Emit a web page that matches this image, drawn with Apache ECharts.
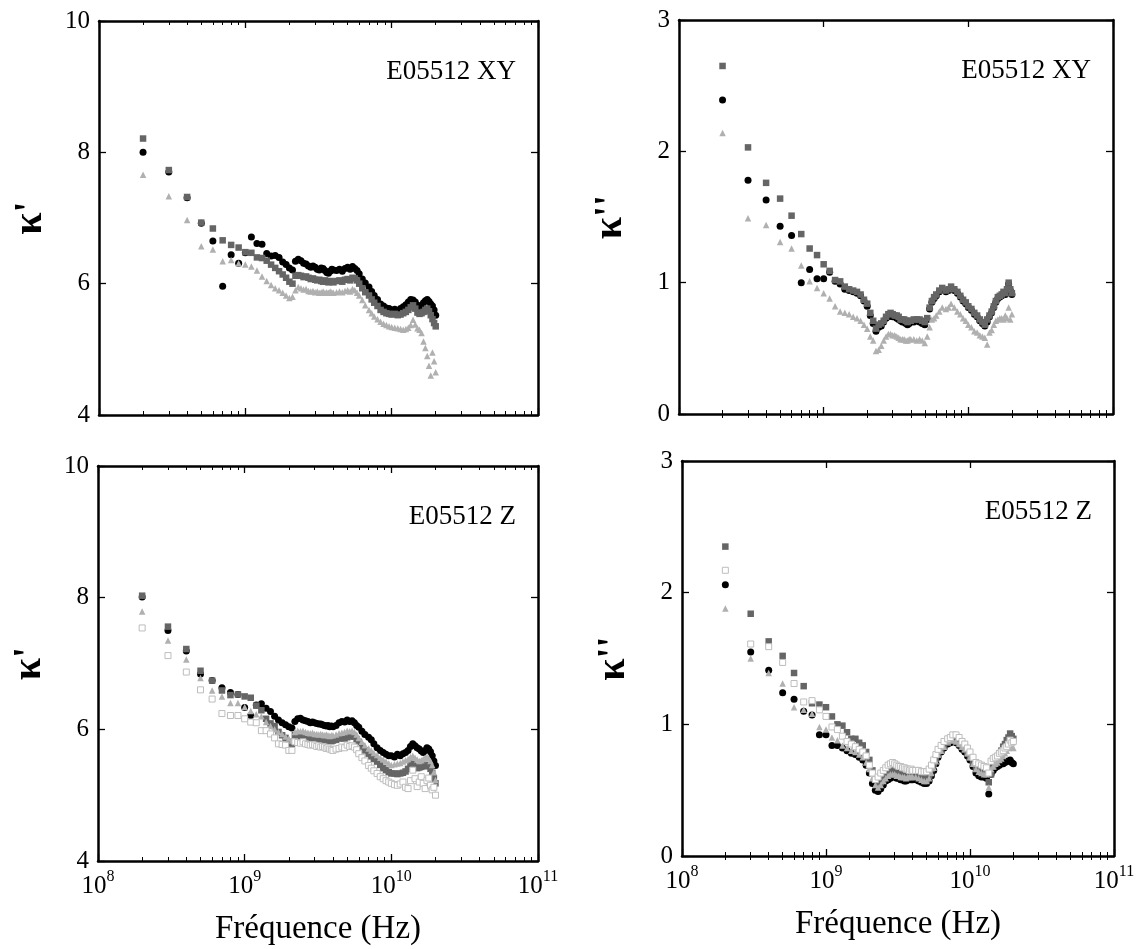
<!DOCTYPE html>
<html><head><meta charset="utf-8">
<script src="https://cdn.jsdelivr.net/npm/echarts@6/dist/echarts.min.js"></script>
<style>html,body{margin:0;padding:0;background:#fff}#c{width:1144px;height:949px}</style>
</head><body><div id="c"></div>
<script>
// Frequencies (GHz)
const freqGHz = [
 0.2,0.3,0.4,0.5,0.6,0.7,0.8,0.9,1.0,1.1,
 1.2,1.3,1.4,1.5,1.6,1.7,1.8,1.9,2.0,2.1,
 2.2,2.3,2.4,2.5,2.6,2.7,2.8,2.9,3.0,3.1,
 3.2,3.3,3.4,3.5,3.6,3.7,3.8,3.9,4.0,4.2,
 4.4,4.6,4.8,5.0,5.2,5.4,5.6,5.8,6.0,6.3,
 6.6,7.0,7.3,7.6,8.0,8.4,8.8,9.2,9.6,10,
 10.5,11,11.5,12,12.5,13,13.5,14,14.5,15,
 15.5,16,16.5,17,17.5,18,18.5,19,19.5,20];

// E05512 XY, kappa'
const xyKp_circle = [
 8.00,7.70,7.31,6.92,6.65,5.96,6.44,6.31,6.47,6.71,
 6.61,6.60,6.46,6.42,6.43,6.40,6.33,6.29,6.24,6.21,
 6.34,6.37,6.35,6.31,6.30,6.27,6.25,6.27,6.25,6.22,
 6.21,6.24,6.23,6.20,6.17,6.16,6.19,6.22,6.21,6.20,
 6.22,6.19,6.23,6.25,6.22,6.26,6.23,6.20,6.15,6.07,
 6.01,5.95,5.88,5.82,5.76,5.69,5.66,5.63,5.62,5.60,
 5.61,5.59,5.62,5.65,5.68,5.72,5.76,5.75,5.72,5.67,
 5.65,5.67,5.71,5.74,5.76,5.73,5.69,5.66,5.60,5.52];
const xyKp_square = [
 8.21,7.73,7.32,6.93,6.84,6.66,6.59,6.55,6.48,6.47,
 6.40,6.39,6.35,6.29,6.24,6.19,6.14,6.09,6.03,6.00,
 6.12,6.13,6.12,6.10,6.11,6.09,6.07,6.08,6.06,6.05,
 6.06,6.04,6.03,6.05,6.03,6.02,6.04,6.03,6.02,6.04,
 6.05,6.03,6.06,6.07,6.05,6.09,6.08,6.05,6.00,5.93,
 5.87,5.82,5.76,5.71,5.66,5.60,5.57,5.55,5.54,5.53,
 5.54,5.52,5.53,5.55,5.57,5.60,5.64,5.67,5.62,5.56,
 5.54,5.55,5.57,5.60,5.62,5.58,5.52,5.46,5.40,5.35];
const xyKp_triangle = [
 7.66,7.33,6.97,6.57,6.52,6.34,6.36,6.31,6.29,6.26,
 6.20,6.11,6.04,5.98,5.93,5.90,5.86,5.82,5.78,5.80,
 5.90,5.95,5.93,5.91,5.92,5.89,5.88,5.89,5.87,5.88,
 5.86,5.87,5.88,5.86,5.87,5.86,5.88,5.87,5.86,5.87,
 5.88,5.87,5.89,5.90,5.88,5.92,5.90,5.86,5.82,5.75,
 5.67,5.60,5.55,5.50,5.46,5.42,5.39,5.37,5.35,5.34,
 5.33,5.32,5.31,5.30,5.31,5.33,5.37,5.45,5.38,5.32,
 5.30,5.25,5.12,5.02,4.90,4.75,4.60,4.95,4.82,4.65];

// E05512 XY, kappa''
const xyKpp_circle = [
 2.39,1.78,1.63,1.43,1.36,1.00,1.10,1.03,1.03,1.08,
 1.01,0.99,0.95,0.94,0.93,0.92,0.90,0.86,0.82,0.75,
 0.69,0.63,0.66,0.67,0.70,0.73,0.74,0.75,0.74,0.74,
 0.73,0.72,0.71,0.70,0.70,0.69,0.68,0.69,0.70,0.70,
 0.71,0.70,0.69,0.68,0.72,0.80,0.85,0.88,0.90,0.93,
 0.95,0.93,0.94,0.96,0.94,0.92,0.89,0.86,0.84,0.81,
 0.79,0.76,0.74,0.71,0.69,0.67,0.70,0.74,0.77,0.81,
 0.85,0.88,0.89,0.90,0.92,0.91,0.94,0.99,0.94,0.91];
const xyKpp_square = [
 2.65,2.03,1.76,1.64,1.51,1.37,1.26,1.21,1.14,1.09,
 1.02,1.01,0.97,0.95,0.94,0.93,0.91,0.87,0.84,0.77,
 0.71,0.65,0.68,0.69,0.71,0.74,0.76,0.77,0.76,0.75,
 0.75,0.74,0.72,0.72,0.72,0.71,0.70,0.71,0.71,0.72,
 0.72,0.72,0.71,0.70,0.73,0.81,0.86,0.89,0.91,0.94,
 0.96,0.94,0.95,0.97,0.95,0.93,0.90,0.87,0.85,0.82,
 0.80,0.77,0.75,0.72,0.70,0.68,0.72,0.75,0.78,0.82,
 0.86,0.89,0.90,0.91,0.93,0.92,0.95,1.00,0.95,0.92];
const xyKpp_triangle = [
 2.14,1.49,1.44,1.31,1.26,1.13,1.01,0.96,0.92,0.88,
 0.82,0.78,0.77,0.76,0.74,0.73,0.71,0.68,0.65,0.59,
 0.56,0.48,0.49,0.52,0.56,0.59,0.61,0.61,0.60,0.60,
 0.59,0.58,0.57,0.57,0.57,0.56,0.56,0.57,0.57,0.57,
 0.56,0.57,0.56,0.54,0.59,0.66,0.72,0.73,0.75,0.78,
 0.81,0.80,0.81,0.84,0.81,0.78,0.76,0.73,0.71,0.68,
 0.66,0.63,0.62,0.60,0.59,0.58,0.53,0.62,0.64,0.68,
 0.71,0.72,0.73,0.73,0.72,0.75,0.73,0.81,0.72,0.76];

// E05512 Z, kappa'
const zKp_circle = [
 8.01,7.50,7.19,6.84,6.74,6.63,6.56,6.53,6.33,6.21,
 6.37,6.39,6.32,6.27,6.20,6.14,6.10,6.07,6.04,6.02,
 6.12,6.16,6.17,6.14,6.13,6.12,6.10,6.11,6.10,6.09,
 6.08,6.08,6.07,6.06,6.05,6.06,6.04,6.05,6.04,6.06,
 6.10,6.12,6.11,6.14,6.12,6.13,6.10,6.06,6.03,5.97,
 5.92,5.88,5.84,5.78,5.72,5.68,5.65,5.62,5.60,5.60,
 5.58,5.62,5.60,5.63,5.65,5.68,5.74,5.78,5.75,5.72,
 5.70,5.67,5.65,5.68,5.72,5.70,5.66,5.60,5.52,5.45];
const zKp_square = [
 8.03,7.56,7.22,6.89,6.74,6.59,6.52,6.53,6.50,6.48,
 6.36,6.29,6.16,6.09,6.05,5.96,5.91,5.87,5.81,5.78,
 5.91,5.90,5.89,5.88,5.88,5.87,5.86,5.87,5.86,5.85,
 5.85,5.84,5.84,5.84,5.83,5.84,5.83,5.82,5.83,5.84,
 5.86,5.87,5.86,5.88,5.89,5.91,5.89,5.85,5.81,5.74,
 5.68,5.63,5.59,5.55,5.51,5.46,5.41,5.38,5.35,5.33,
 5.33,5.32,5.33,5.34,5.36,5.40,5.45,5.48,5.44,5.41,
 5.42,5.43,5.44,5.46,5.45,5.44,5.40,5.34,5.26,5.18];
const zKp_triangle = [
 7.79,7.35,7.06,6.78,6.59,6.50,6.40,6.40,6.34,6.28,
 6.23,6.20,6.11,6.05,6.00,5.96,5.93,5.89,5.86,5.83,
 5.96,5.98,5.97,5.98,5.96,5.95,5.94,5.95,5.93,5.93,
 5.92,5.93,5.92,5.91,5.92,5.91,5.90,5.91,5.91,5.92,
 5.94,5.95,5.96,5.98,5.97,5.98,5.96,5.92,5.87,5.81,
 5.76,5.71,5.68,5.64,5.61,5.57,5.54,5.51,5.48,5.46,
 5.47,5.48,5.49,5.51,5.53,5.55,5.58,5.60,5.57,5.54,
 5.52,5.53,5.55,5.57,5.58,5.56,5.52,5.46,5.35,5.23];
const zKp_open = [
 7.54,7.12,6.87,6.60,6.46,6.24,6.21,6.21,6.16,6.11,
 6.10,5.98,5.98,5.93,5.87,5.78,5.77,5.76,5.68,5.68,
 5.81,5.80,5.79,5.81,5.78,5.77,5.76,5.77,5.76,5.74,
 5.75,5.73,5.74,5.73,5.71,5.72,5.70,5.69,5.68,5.70,
 5.71,5.73,5.72,5.76,5.74,5.75,5.73,5.69,5.63,5.57,
 5.52,5.45,5.41,5.37,5.33,5.28,5.25,5.22,5.20,5.18,
 5.16,5.15,5.17,5.20,5.12,5.10,5.22,5.38,5.25,5.13,
 5.20,5.28,5.18,5.10,5.22,5.26,5.15,5.08,5.12,5.00];

// E05512 Z, kappa''
const zKpp_circle = [
 2.06,1.55,1.41,1.24,1.19,1.10,1.07,0.92,0.92,0.84,
 0.84,0.82,0.80,0.78,0.77,0.75,0.73,0.69,0.63,0.55,
 0.50,0.49,0.51,0.54,0.57,0.58,0.59,0.60,0.60,0.59,
 0.59,0.58,0.58,0.57,0.57,0.58,0.58,0.58,0.58,0.58,
 0.57,0.56,0.55,0.55,0.57,0.61,0.65,0.70,0.75,0.79,
 0.82,0.85,0.86,0.87,0.86,0.84,0.81,0.79,0.76,0.73,
 0.68,0.63,0.61,0.60,0.60,0.59,0.47,0.62,0.65,0.67,
 0.68,0.69,0.70,0.70,0.71,0.72,0.72,0.73,0.71,0.70];
const zKpp_square = [
 2.35,1.84,1.63,1.52,1.39,1.29,1.16,1.15,1.13,1.06,
 1.00,0.99,0.94,0.89,0.89,0.86,0.84,0.79,0.73,0.65,
 0.58,0.54,0.56,0.58,0.61,0.63,0.64,0.65,0.65,0.64,
 0.63,0.62,0.61,0.60,0.60,0.61,0.61,0.62,0.62,0.62,
 0.61,0.60,0.59,0.58,0.61,0.66,0.70,0.74,0.77,0.80,
 0.83,0.86,0.88,0.89,0.88,0.86,0.84,0.81,0.78,0.75,
 0.71,0.67,0.66,0.65,0.64,0.63,0.56,0.62,0.68,0.72,
 0.75,0.78,0.80,0.83,0.85,0.88,0.90,0.93,0.91,0.89];
const zKpp_triangle = [
 1.88,1.50,1.39,1.31,1.13,1.11,1.08,0.98,0.96,0.90,
 0.88,0.84,0.82,0.80,0.79,0.77,0.75,0.71,0.66,0.59,
 0.54,0.52,0.54,0.57,0.59,0.61,0.62,0.62,0.62,0.61,
 0.61,0.60,0.60,0.60,0.59,0.60,0.60,0.60,0.60,0.60,
 0.59,0.58,0.57,0.57,0.59,0.63,0.67,0.72,0.77,0.80,
 0.83,0.87,0.88,0.88,0.87,0.85,0.83,0.81,0.78,0.75,
 0.70,0.66,0.64,0.63,0.62,0.62,0.52,0.66,0.68,0.70,
 0.71,0.73,0.74,0.76,0.78,0.80,0.82,0.84,0.83,0.82];
const zKpp_open = [
 2.17,1.61,1.59,1.47,1.31,1.17,1.18,1.11,1.06,0.98,
 0.96,0.91,0.87,0.85,0.83,0.81,0.79,0.76,0.69,0.63,
 0.58,0.60,0.63,0.65,0.67,0.69,0.70,0.71,0.70,0.69,
 0.68,0.68,0.67,0.67,0.66,0.66,0.65,0.66,0.65,0.65,
 0.65,0.64,0.64,0.64,0.66,0.69,0.73,0.77,0.81,0.84,
 0.87,0.89,0.90,0.92,0.92,0.90,0.87,0.85,0.82,0.79,
 0.75,0.71,0.70,0.69,0.68,0.67,0.63,0.72,0.74,0.75,
 0.76,0.78,0.79,0.80,0.82,0.83,0.85,0.88,0.86,0.87];

// Tick positions (Hz)
const xMajorTicks = [1e8, 1e9, 1e10, 1e11];
const xMinorTicks = [2e8,3e8,4e8,5e8,6e8,7e8,8e8,9e8,
                     2e9,3e9,4e9,5e9,6e9,7e9,8e9,9e9,
                     2e10,3e10,4e10,5e10,6e10,7e10,8e10,9e10];
const xTitle = 'Fréquence (Hz)';

const FONT = '"Liberation Serif", "DejaVu Serif", serif';

const markStyle = {
  circle:   {symbol:'circle',   symbolSize:7,   itemStyle:{color:'#000000', opacity:1}},
  square:   {symbol:'rect',     symbolSize:6.5, itemStyle:{color:'#656565', opacity:1}},
  triangle: {symbol:'triangle', symbolSize:6.5, itemStyle:{color:'#b0b0b0', opacity:1}},
  open:     {symbol:'rect',     symbolSize:6,   itemStyle:{color:'#ffffff', borderColor:'#bdbdbd', borderWidth:1, opacity:1}}
};

const panels = [
  {grid:{left:99, top:21, width:439, height:394}, yMin:4, yMax:10, yInt:2, yName:"κ'", label:'E05512 XY', showX:false,
   series:[['circle',xyKp_circle],['square',xyKp_square],['triangle',xyKp_triangle]]},
  {grid:{left:679, top:20, width:434, height:394}, yMin:0, yMax:3, yInt:1, yName:"κ''", label:'E05512 XY', showX:false,
   series:[['circle',xyKpp_circle],['square',xyKpp_square],['triangle',xyKpp_triangle]]},
  {grid:{left:98, top:466, width:440, height:395}, yMin:4, yMax:10, yInt:2, yName:"κ'", label:'E05512 Z', showX:true,
   series:[['circle',zKp_circle],['square',zKp_square],['triangle',zKp_triangle],['open',zKp_open]]},
  {grid:{left:682, top:461, width:432, height:395}, yMin:0, yMax:3, yInt:1, yName:"κ''", label:'E05512 Z', showX:true,
   series:[['circle',zKpp_circle],['square',zKpp_square],['triangle',zKpp_triangle],['open',zKpp_open]]}
];

const grid = [], xAxis = [], yAxis = [], series = [], graphic = [];
panels.forEach((p, i) => {
  grid.push(Object.assign({containLabel:false}, p.grid));
  const base = {type:'log', logBase:10, gridIndex:i, min:1e8, max:1e11, splitLine:{show:false}, minorTick:{show:false}};
  const line = {show:true, onZero:false, lineStyle:{color:'#000', width:2.5}};
  xAxis.push(Object.assign({}, base, {
    position:'bottom', axisLine:line,
    axisTick:{show:true, inside:true, length:7, customValues:xMajorTicks, lineStyle:{color:'#000', width:1.3}},
    axisLabel:{show:p.showX, margin:8, color:'#000',
      formatter: v => '{b|10}{s|' + Math.round(Math.log10(v)) + '}',
      rich:{b:{fontFamily:FONT, fontSize:25, color:'#000', verticalAlign:'bottom', lineHeight:30},
            s:{fontFamily:FONT, fontSize:16, color:'#000', verticalAlign:'top', lineHeight:16}}},
    name: p.showX ? xTitle : '', nameLocation:'middle', nameGap:52,
    nameTextStyle:{fontFamily:FONT, fontSize:33, color:'#000'}
  }));
  xAxis.push(Object.assign({}, base, {
    position:'bottom', axisLine:{show:false},
    axisTick:{show:true, inside:true, length:4, customValues:xMinorTicks, lineStyle:{color:'#000', width:1}},
    axisLabel:{show:false}
  }));
  xAxis.push(Object.assign({}, base, {
    position:'top', axisLine:line,
    axisTick:{show:true, inside:true, length:7, customValues:xMajorTicks, lineStyle:{color:'#000', width:1.3}},
    axisLabel:{show:false}
  }));
  xAxis.push(Object.assign({}, base, {
    position:'top', axisLine:{show:false},
    axisTick:{show:true, inside:true, length:4, customValues:xMinorTicks, lineStyle:{color:'#000', width:1}},
    axisLabel:{show:false}
  }));
  yAxis.push({
    type:'value', gridIndex:i, min:p.yMin, max:p.yMax, interval:p.yInt, position:'left',
    axisLine:{show:true, onZero:false, lineStyle:{color:'#000', width:2.5}},
    axisTick:{show:true, inside:true, length:7, lineStyle:{color:'#000', width:1.3}},
    axisLabel:{show:true, margin:9, fontFamily:FONT, fontSize:25, color:'#000'},
    splitLine:{show:false},
    name:p.yName, nameLocation:'middle', nameGap:48, nameRotate:90,
    nameTextStyle:{fontFamily:FONT, fontSize:40, fontWeight:'bold', color:'#000'}
  });
  yAxis.push({
    type:'value', gridIndex:i, min:p.yMin, max:p.yMax, interval:p.yInt, position:'right',
    axisLine:{show:true, onZero:false, lineStyle:{color:'#000', width:2.5}},
    axisTick:{show:true, inside:true, length:7, lineStyle:{color:'#000', width:1.3}},
    axisLabel:{show:false}, splitLine:{show:false}
  });
  p.series.forEach(([kind, vals]) => {
    const st = markStyle[kind];
    series.push({
      type:'scatter', xAxisIndex:4*i, yAxisIndex:2*i,
      symbol:st.symbol, symbolSize:st.symbolSize, itemStyle:st.itemStyle,
      data: freqGHz.map((f, k) => [f * 1e9, vals[k]]),
      emphasis:{disabled:true}
    });
  });
  graphic.push({type:'text', right: 1144 - (p.grid.left + p.grid.width) + 22, top: p.grid.top + 37,
    style:{text:p.label, fontFamily:FONT, fontSize:27, fill:'#000'}});
});

const chart = echarts.init(document.getElementById('c'), null, {renderer:'canvas'});
chart.setOption({animation:false, backgroundColor:'#fff', grid, xAxis, yAxis, series, graphic});
</script>
</body></html>
